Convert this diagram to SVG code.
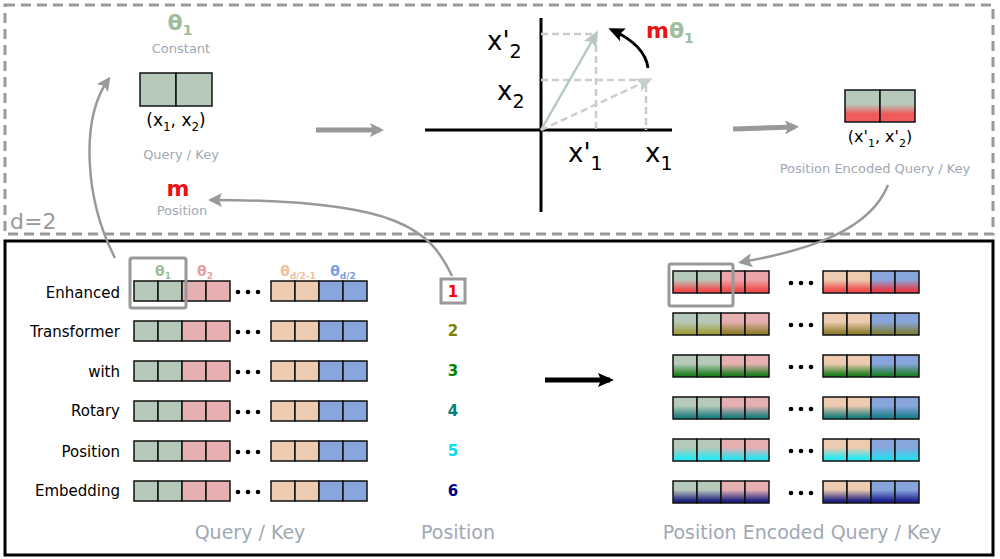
<svg xmlns="http://www.w3.org/2000/svg" width="1000" height="559" viewBox="0 0 1000 559">
<style>
text{font-family:"DejaVu Sans",sans-serif}
.lbl{font-size:15px;text-anchor:end;fill:#000}
.cap{font-size:19px;fill:#a0a8b4;text-anchor:middle}
.sm{font-size:13px;fill:#a0a8b4;text-anchor:middle}
.c{stroke:#111;stroke-width:1.5}
.ax{font-size:26px;fill:#000}
.num{font-size:15px;font-weight:bold;text-anchor:middle}
.dash{stroke:#cccccc;stroke-width:2.5;stroke-dasharray:7,4;fill:none}
</style>
<defs>
<marker id="ga" markerWidth="8" markerHeight="8" refX="6" refY="4" orient="auto" markerUnits="userSpaceOnUse" viewBox="0 0 8 8"><path d="M0,0L8,4L0,8z" fill="#999"/></marker>
<marker id="ga2" markerWidth="14" markerHeight="14" refX="10" refY="7" orient="auto" markerUnits="userSpaceOnUse"><path d="M0,0L14,7L0,14L3,7z" fill="#999"/></marker>
<marker id="ba" markerWidth="16" markerHeight="16" refX="12" refY="8" orient="auto" markerUnits="userSpaceOnUse"><path d="M0,1L16,8L0,15L3,8z" fill="#000"/></marker>
<marker id="sa" markerWidth="16" markerHeight="16" refX="12" refY="8" orient="auto" markerUnits="userSpaceOnUse"><path d="M0,1L16,8L0,15L3,8z" fill="#b8c8bc"/></marker>
<marker id="da" markerWidth="16" markerHeight="16" refX="12" refY="8" orient="auto" markerUnits="userSpaceOnUse"><path d="M0,1L16,8L0,15L3,8z" fill="#c6d0c8"/></marker>
<linearGradient id="gtop" x1="0" y1="0" x2="0" y2="1"><stop offset="0.45" stop-color="#b7c9ba"/><stop offset="0.75" stop-color="#ef5a5a"/></linearGradient>
</defs>
<rect x="5" y="5" width="988" height="229" fill="none" stroke="#999" stroke-width="3" stroke-dasharray="10,6"/>
<text x="10" y="229" font-size="22" fill="#999">d=2</text>
<rect x="5" y="241" width="988" height="314" fill="none" stroke="#000" stroke-width="3"/>

<g id="top-left">
<text x="180" y="30" font-size="22" font-weight="bold" fill="#9dbd9d" text-anchor="middle">θ<tspan font-size="14" dy="5">1</tspan></text>
<text x="181" y="53" class="sm">Constant</text>
<rect x="140" y="73" width="36" height="33" fill="#b7c9ba" class="c"/>
<rect x="176" y="73" width="36" height="33" fill="#b7c9ba" class="c"/>
<text x="176" y="126" font-size="17" text-anchor="middle">(x<tspan font-size="12" dy="5">1</tspan><tspan dy="-5">, x</tspan><tspan font-size="12" dy="5">2</tspan><tspan dy="-5">)</tspan></text>
<text x="181" y="159" class="sm">Query / Key</text>
<text x="178" y="196" font-size="22" font-weight="bold" fill="#ee1111" text-anchor="middle">m</text>
<text x="182" y="215" class="sm">Position</text>
</g>

<g id="rotation">
<line x1="425" y1="130" x2="672" y2="130" stroke="#000" stroke-width="3"/>
<line x1="541" y1="18" x2="541" y2="212" stroke="#000" stroke-width="3"/>
<path class="dash" d="M541,34H596V130M541,80H646V130"/>
<line x1="541" y1="130" x2="596" y2="34" stroke="#b8c8bc" stroke-width="2.5" marker-end="url(#sa)"/>
<line x1="541" y1="130" x2="649" y2="80" class="dash" marker-end="url(#da)"/>
<path d="M648,68 Q645,45 612,30" fill="none" stroke="#000" stroke-width="3" marker-end="url(#ba)"/>
<text x="646" y="38" font-size="22" font-weight="bold" fill="#ee1111">m<tspan fill="#9dbd9d">θ</tspan><tspan fill="#9dbd9d" font-size="14" dy="5">1</tspan></text>
<text x="487" y="50" class="ax">x'<tspan font-size="19" dy="8">2</tspan></text>
<text x="497" y="100" class="ax">x<tspan font-size="19" dy="8">2</tspan></text>
<text x="568" y="162" class="ax">x'<tspan font-size="19" dy="8">1</tspan></text>
<text x="645" y="162" class="ax">x<tspan font-size="19" dy="8">1</tspan></text>
</g>

<g id="top-right">
<rect x="845" y="90" width="35" height="32" fill="url(#gtop)" class="c"/>
<rect x="880" y="90" width="35" height="32" fill="url(#gtop)" class="c"/>
<text x="880" y="142" font-size="16" text-anchor="middle">(x'<tspan font-size="11" dy="5">1</tspan><tspan dy="-5">, x'</tspan><tspan font-size="11" dy="5">2</tspan><tspan dy="-5">)</tspan></text>
<text x="875" y="173" class="sm">Position Encoded Query / Key</text>
</g>

<g id="connectors" fill="none">
<line x1="316" y1="130" x2="380" y2="130" stroke="#999" stroke-width="5" marker-end="url(#ga2)"/>
<line x1="733" y1="129" x2="795" y2="127" stroke="#999" stroke-width="5" marker-end="url(#ga2)"/>
<path d="M115,258 C85,200 80,120 108,80" stroke="#999" stroke-width="2.5" marker-end="url(#ga2)"/>
<path d="M452,276 C430,230 400,200 212,200" stroke="#999" stroke-width="2.5" marker-end="url(#ga2)"/>
<path d="M888,185 C870,230 810,250 742,262" stroke="#999" stroke-width="2.5" marker-end="url(#ga2)"/>
<line x1="545" y1="380" x2="610" y2="380" stroke="#000" stroke-width="5" marker-end="url(#ba)"/>
</g>

<g id="left-grid">
<text x="163" y="276" font-size="14" font-weight="bold" fill="#9dbd9d" text-anchor="middle">θ<tspan font-size="9" dy="3">1</tspan></text>
<text x="205" y="276" font-size="14" font-weight="bold" fill="#e8a0a0" text-anchor="middle">θ<tspan font-size="9" dy="3">2</tspan></text>
<text x="298" y="276" font-size="14" font-weight="bold" fill="#f0c0a0" text-anchor="middle">θ<tspan font-size="9" dy="3">d/2-1</tspan></text>
<text x="343" y="276" font-size="14" font-weight="bold" fill="#7a9ee0" text-anchor="middle">θ<tspan font-size="9" dy="3">d/2</tspan></text>
<g id="lrows">
<g id="lrow">
<rect x="134" y="281" width="24" height="20" fill="#b7c9ba" class="c"/><rect x="158" y="281" width="24" height="20" fill="#b7c9ba" class="c"/>
<rect x="182" y="281" width="24" height="20" fill="#e6b0b3" class="c"/><rect x="206" y="281" width="24" height="20" fill="#e6b0b3" class="c"/>
<circle cx="238" cy="292" r="2.3"/><circle cx="248" cy="292" r="2.3"/><circle cx="258" cy="292" r="2.3"/>
<rect x="271" y="281" width="24" height="20" fill="#eccbb0" class="c"/><rect x="295" y="281" width="24" height="20" fill="#eccbb0" class="c"/>
<rect x="319" y="281" width="24" height="20" fill="#88a6dc" class="c"/><rect x="343" y="281" width="24" height="20" fill="#88a6dc" class="c"/>
</g>
<use href="#lrow" y="40"/><use href="#lrow" y="80"/><use href="#lrow" y="120"/><use href="#lrow" y="160"/><use href="#lrow" y="200"/>
</g>
<rect x="130" y="258" width="56" height="50" rx="2" fill="none" stroke="#999" stroke-width="3"/>
<text x="120" y="298" class="lbl">Enhanced</text>
<text x="120" y="337" class="lbl">Transformer</text>
<text x="120" y="377" class="lbl">with</text>
<text x="120" y="416" class="lbl">Rotary</text>
<text x="120" y="457" class="lbl">Position</text>
<text x="120" y="496" class="lbl">Embedding</text>
</g>

<g id="positions">
<rect x="441" y="279" width="24" height="24" fill="none" stroke="#999" stroke-width="3"/>
<text x="453" y="297" class="num" fill="#ff0000">1</text>
<text x="453" y="336" class="num" fill="#808000">2</text>
<text x="453" y="376" class="num" fill="#008000">3</text>
<text x="453" y="416" class="num" fill="#008080">4</text>
<text x="453" y="456" class="num" fill="#00e0ee">5</text>
<text x="453" y="496" class="num" fill="#000080">6</text>
</g>

<g id="right-grid">
<defs>
<linearGradient id="r1g" x1="0" y1="0" x2="0" y2="1"><stop offset="0.4" stop-color="#b7c9ba"/><stop offset="0.85" stop-color="#f05050"/></linearGradient>
<linearGradient id="r1r" x1="0" y1="0" x2="0" y2="1"><stop offset="0.4" stop-color="#eba5a8"/><stop offset="0.85" stop-color="#f05050"/></linearGradient>
<linearGradient id="r1o" x1="0" y1="0" x2="0" y2="1"><stop offset="0.4" stop-color="#eccbb0"/><stop offset="0.85" stop-color="#f05050"/></linearGradient>
<linearGradient id="r1b" x1="0" y1="0" x2="0" y2="1"><stop offset="0.4" stop-color="#88a6dc"/><stop offset="0.85" stop-color="#e04050"/></linearGradient>
<linearGradient id="r2g" x1="0" y1="0" x2="0" y2="1"><stop offset="0.4" stop-color="#b7c9ba"/><stop offset="0.9" stop-color="#a0a040"/></linearGradient>
<linearGradient id="r2r" x1="0" y1="0" x2="0" y2="1"><stop offset="0.4" stop-color="#e6b0b3"/><stop offset="0.9" stop-color="#908030"/></linearGradient>
<linearGradient id="r2o" x1="0" y1="0" x2="0" y2="1"><stop offset="0.4" stop-color="#eccbb0"/><stop offset="0.9" stop-color="#908030"/></linearGradient>
<linearGradient id="r2b" x1="0" y1="0" x2="0" y2="1"><stop offset="0.4" stop-color="#88a6dc"/><stop offset="0.9" stop-color="#808040"/></linearGradient>
<linearGradient id="r3g" x1="0" y1="0" x2="0" y2="1"><stop offset="0.4" stop-color="#b7c9ba"/><stop offset="0.9" stop-color="#208020"/></linearGradient>
<linearGradient id="r3r" x1="0" y1="0" x2="0" y2="1"><stop offset="0.4" stop-color="#e6b0b3"/><stop offset="0.9" stop-color="#208020"/></linearGradient>
<linearGradient id="r3o" x1="0" y1="0" x2="0" y2="1"><stop offset="0.4" stop-color="#eccbb0"/><stop offset="0.9" stop-color="#208020"/></linearGradient>
<linearGradient id="r3b" x1="0" y1="0" x2="0" y2="1"><stop offset="0.4" stop-color="#88a6dc"/><stop offset="0.9" stop-color="#208030"/></linearGradient>
<linearGradient id="r4g" x1="0" y1="0" x2="0" y2="1"><stop offset="0.4" stop-color="#b7c9ba"/><stop offset="0.9" stop-color="#208080"/></linearGradient>
<linearGradient id="r4r" x1="0" y1="0" x2="0" y2="1"><stop offset="0.4" stop-color="#e6b0b3"/><stop offset="0.9" stop-color="#208080"/></linearGradient>
<linearGradient id="r4o" x1="0" y1="0" x2="0" y2="1"><stop offset="0.4" stop-color="#eccbb0"/><stop offset="0.9" stop-color="#208080"/></linearGradient>
<linearGradient id="r4b" x1="0" y1="0" x2="0" y2="1"><stop offset="0.4" stop-color="#88a6dc"/><stop offset="0.9" stop-color="#208090"/></linearGradient>
<linearGradient id="r5g" x1="0" y1="0" x2="0" y2="1"><stop offset="0.4" stop-color="#b7c9ba"/><stop offset="0.85" stop-color="#30e8ee"/></linearGradient>
<linearGradient id="r5r" x1="0" y1="0" x2="0" y2="1"><stop offset="0.4" stop-color="#e6b0b3"/><stop offset="0.85" stop-color="#30e0ee"/></linearGradient>
<linearGradient id="r5o" x1="0" y1="0" x2="0" y2="1"><stop offset="0.4" stop-color="#eccbb0"/><stop offset="0.85" stop-color="#30e8ee"/></linearGradient>
<linearGradient id="r5b" x1="0" y1="0" x2="0" y2="1"><stop offset="0.4" stop-color="#88a6dc"/><stop offset="0.85" stop-color="#30d8ee"/></linearGradient>
<linearGradient id="r6g" x1="0" y1="0" x2="0" y2="1"><stop offset="0.4" stop-color="#b7c9ba"/><stop offset="0.9" stop-color="#202080"/></linearGradient>
<linearGradient id="r6r" x1="0" y1="0" x2="0" y2="1"><stop offset="0.4" stop-color="#e6b0b3"/><stop offset="0.9" stop-color="#202080"/></linearGradient>
<linearGradient id="r6o" x1="0" y1="0" x2="0" y2="1"><stop offset="0.4" stop-color="#eccbb0"/><stop offset="0.9" stop-color="#202080"/></linearGradient>
<linearGradient id="r6b" x1="0" y1="0" x2="0" y2="1"><stop offset="0.4" stop-color="#88a6dc"/><stop offset="0.9" stop-color="#202090"/></linearGradient>
</defs>
<g id="rr1">
<rect x="673" y="271" width="24" height="22" fill="url(#r1g)" class="c"/><rect x="697" y="271" width="24" height="22" fill="url(#r1g)" class="c"/>
<rect x="721" y="271" width="24" height="22" fill="url(#r1r)" class="c"/><rect x="745" y="271" width="24" height="22" fill="url(#r1r)" class="c"/>
<circle cx="791" cy="283" r="2.3"/><circle cx="801" cy="283" r="2.3"/><circle cx="811" cy="283" r="2.3"/>
<rect x="823" y="271" width="24" height="22" fill="url(#r1o)" class="c"/><rect x="847" y="271" width="24" height="22" fill="url(#r1o)" class="c"/>
<rect x="871" y="271" width="24" height="22" fill="url(#r1b)" class="c"/><rect x="895" y="271" width="24" height="22" fill="url(#r1b)" class="c"/>
</g>
<g id="rr2">
<rect x="673" y="313" width="24" height="22" fill="url(#r2g)" class="c"/><rect x="697" y="313" width="24" height="22" fill="url(#r2g)" class="c"/>
<rect x="721" y="313" width="24" height="22" fill="url(#r2r)" class="c"/><rect x="745" y="313" width="24" height="22" fill="url(#r2r)" class="c"/>
<circle cx="791" cy="325" r="2.3"/><circle cx="801" cy="325" r="2.3"/><circle cx="811" cy="325" r="2.3"/>
<rect x="823" y="313" width="24" height="22" fill="url(#r2o)" class="c"/><rect x="847" y="313" width="24" height="22" fill="url(#r2o)" class="c"/>
<rect x="871" y="313" width="24" height="22" fill="url(#r2b)" class="c"/><rect x="895" y="313" width="24" height="22" fill="url(#r2b)" class="c"/>
</g>
<g id="rr3">
<rect x="673" y="355" width="24" height="22" fill="url(#r3g)" class="c"/><rect x="697" y="355" width="24" height="22" fill="url(#r3g)" class="c"/>
<rect x="721" y="355" width="24" height="22" fill="url(#r3r)" class="c"/><rect x="745" y="355" width="24" height="22" fill="url(#r3r)" class="c"/>
<circle cx="791" cy="367" r="2.3"/><circle cx="801" cy="367" r="2.3"/><circle cx="811" cy="367" r="2.3"/>
<rect x="823" y="355" width="24" height="22" fill="url(#r3o)" class="c"/><rect x="847" y="355" width="24" height="22" fill="url(#r3o)" class="c"/>
<rect x="871" y="355" width="24" height="22" fill="url(#r3b)" class="c"/><rect x="895" y="355" width="24" height="22" fill="url(#r3b)" class="c"/>
</g>
<g id="rr4">
<rect x="673" y="397" width="24" height="22" fill="url(#r4g)" class="c"/><rect x="697" y="397" width="24" height="22" fill="url(#r4g)" class="c"/>
<rect x="721" y="397" width="24" height="22" fill="url(#r4r)" class="c"/><rect x="745" y="397" width="24" height="22" fill="url(#r4r)" class="c"/>
<circle cx="791" cy="409" r="2.3"/><circle cx="801" cy="409" r="2.3"/><circle cx="811" cy="409" r="2.3"/>
<rect x="823" y="397" width="24" height="22" fill="url(#r4o)" class="c"/><rect x="847" y="397" width="24" height="22" fill="url(#r4o)" class="c"/>
<rect x="871" y="397" width="24" height="22" fill="url(#r4b)" class="c"/><rect x="895" y="397" width="24" height="22" fill="url(#r4b)" class="c"/>
</g>
<g id="rr5">
<rect x="673" y="439" width="24" height="22" fill="url(#r5g)" class="c"/><rect x="697" y="439" width="24" height="22" fill="url(#r5g)" class="c"/>
<rect x="721" y="439" width="24" height="22" fill="url(#r5r)" class="c"/><rect x="745" y="439" width="24" height="22" fill="url(#r5r)" class="c"/>
<circle cx="791" cy="451" r="2.3"/><circle cx="801" cy="451" r="2.3"/><circle cx="811" cy="451" r="2.3"/>
<rect x="823" y="439" width="24" height="22" fill="url(#r5o)" class="c"/><rect x="847" y="439" width="24" height="22" fill="url(#r5o)" class="c"/>
<rect x="871" y="439" width="24" height="22" fill="url(#r5b)" class="c"/><rect x="895" y="439" width="24" height="22" fill="url(#r5b)" class="c"/>
</g>
<g id="rr6">
<rect x="673" y="481" width="24" height="22" fill="url(#r6g)" class="c"/><rect x="697" y="481" width="24" height="22" fill="url(#r6g)" class="c"/>
<rect x="721" y="481" width="24" height="22" fill="url(#r6r)" class="c"/><rect x="745" y="481" width="24" height="22" fill="url(#r6r)" class="c"/>
<circle cx="791" cy="493" r="2.3"/><circle cx="801" cy="493" r="2.3"/><circle cx="811" cy="493" r="2.3"/>
<rect x="823" y="481" width="24" height="22" fill="url(#r6o)" class="c"/><rect x="847" y="481" width="24" height="22" fill="url(#r6o)" class="c"/>
<rect x="871" y="481" width="24" height="22" fill="url(#r6b)" class="c"/><rect x="895" y="481" width="24" height="22" fill="url(#r6b)" class="c"/>
</g>
<rect x="669" y="264" width="64" height="42" rx="2" fill="none" stroke="#999" stroke-width="3"/>
</g>

<g id="captions">
<text x="250" y="539" class="cap">Query / Key</text>
<text x="458" y="539" class="cap">Position</text>
<text x="802" y="539" class="cap">Position Encoded Query / Key</text>
</g>
</svg>
